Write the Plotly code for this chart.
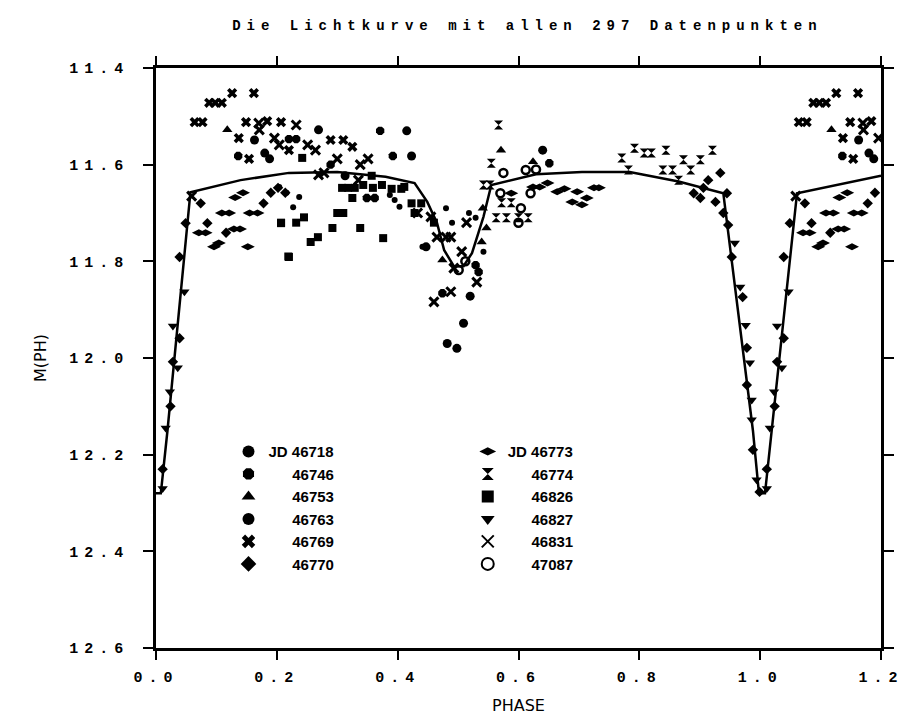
import plotly.graph_objects as go

# ---------------- data ----------------
title_text = "Die Lichtkurve mit allen 297 Datenpunkten"
x_ticks = [0.0, 0.2, 0.4, 0.6, 0.8, 1.0, 1.2]
x_ticklabels = ["0.0", "0.2", "0.4", "0.6", "0.8", "1.0", "1.2"]
y_ticks = [11.4, 11.6, 11.8, 12.0, 12.2, 12.4, 12.6]
y_ticklabels = ["11.4", "11.6", "11.8", "12.0", "12.2", "12.4", "12.6"]

# model light curve
model_phase = [0.0, 0.008, 0.019, 0.057, 0.14, 0.22, 0.30, 0.38, 0.428, 0.449, 0.465, 0.477,
               0.493, 0.509, 0.523, 0.542, 0.555, 0.575, 0.629, 0.705, 0.784, 0.865, 0.939,
               0.988, 0.998, 1.008, 1.019, 1.061, 1.2]
model_mag = [12.28, 12.28, 12.15, 11.657, 11.632, 11.617, 11.615, 11.625, 11.638, 11.677, 11.72,
             11.777, 11.81, 11.81, 11.783, 11.708, 11.642, 11.636, 11.62, 11.615, 11.615, 11.635,
             11.659, 12.15, 12.28, 12.28, 12.15, 11.659, 11.623]

# observations, one pair of lists per night (phase, magnitude)
p46718 = [0.163, 0.180, 0.188, 0.269, 0.313, 0.415, 0.423, 0.640, 0.447, 0.520, 0.509, 0.482, 0.498]
m46718 = [11.549, 11.576, 11.588, 11.528, 11.623, 11.53, 11.582, 11.57, 11.77, 11.872, 11.928, 11.97, 11.98]

p46746 = [0.136, 0.220, 0.232, 0.371, 0.392, 0.289, 0.349, 0.362, 0.651, 0.474, 0.529, 0.534]
m46746 = [11.582, 11.547, 11.547, 11.53, 11.582, 11.60, 11.669, 11.669, 11.597, 11.866, 11.808, 11.822]

p46753 = [0.118, 0.571, 0.624, 0.547, 0.539, 0.474, 0.541]
m46753 = [11.528, 11.57, 11.594, 11.731, 11.76, 11.797, 11.69]

p46763 = [0.204, 0.216, 0.237, 0.227, 0.387, 0.395, 0.403, 0.441, 0.490, 0.542, 0.529, 0.518, 0.480]
m46763 = [11.646, 11.658, 11.667, 11.688, 11.663, 11.673, 11.687, 11.77, 11.72, 11.78, 11.71, 11.70, 11.69]

p46769 = [0.064, 0.077, 0.088, 0.098, 0.109, 0.126, 0.162, 0.149, 0.184, 0.207, 0.137, 0.154,
          0.220, 0.289, 0.310, 0.325]
m46769 = [11.512, 11.512, 11.472, 11.472, 11.472, 11.452, 11.452, 11.512, 11.51, 11.512, 11.545,
          11.588, 11.57, 11.549, 11.549, 11.563]

p46770 = [0.039, 0.039, 0.028, 0.024, 0.011, 0.945, 0.939, 0.947, 0.953, 0.971, 0.978, 0.978,
          0.988, 0.999, 0.074, 0.085, 0.116, 0.178, 0.190, 0.202, 0.214, 0.049, 0.890, 0.901,
          0.906, 0.914, 0.926, 0.934]
m46770 = [11.791, 11.959, 12.008, 12.10, 12.23, 11.659, 11.70, 11.725, 11.791, 11.874, 11.979,
          12.056, 12.19, 12.277, 11.68, 11.721, 11.741, 11.68, 11.658, 11.648, 11.658, 11.721,
          11.659, 11.669, 11.648, 11.632, 11.677, 11.617]

p46773 = [0.109, 0.121, 0.155, 0.168, 0.071, 0.082, 0.129, 0.139, 0.096, 0.104, 0.152, 0.131,
          0.144, 0.624, 0.635, 0.648, 0.664, 0.676, 0.697, 0.725, 0.733, 0.689, 0.705, 0.713, 0.588]
m46773 = [11.70, 11.70, 11.70, 11.70, 11.741, 11.741, 11.733, 11.733, 11.77, 11.762, 11.77, 11.668,
          11.658, 11.646, 11.646, 11.638, 11.656, 11.65, 11.656, 11.648, 11.648, 11.677, 11.683,
          11.669, 11.659]

p46774 = [0.771, 0.792, 0.808, 0.820, 0.844, 0.921, 0.873, 0.901, 0.839, 0.855, 0.885, 0.782,
          0.865, 0.555, 0.542, 0.553, 0.572, 0.588, 0.563, 0.580, 0.600, 0.616, 0.567]
m46774 = [11.586, 11.566, 11.576, 11.576, 11.57, 11.57, 11.59, 11.59, 11.611, 11.611, 11.611,
          11.611, 11.632, 11.597, 11.642, 11.642, 11.679, 11.679, 11.71, 11.71, 11.71, 11.71, 11.518]

p46826 = [0.207, 0.207, 0.232, 0.245, 0.292, 0.338, 0.256, 0.268, 0.376, 0.220, 0.300, 0.310,
          0.325, 0.308, 0.318, 0.329, 0.343, 0.359, 0.374, 0.390, 0.406, 0.357, 0.423, 0.439,
          0.428, 0.242, 0.219, 0.411, 0.460]
m46826 = [11.721, 11.72, 11.72, 11.709, 11.731, 11.731, 11.76, 11.75, 11.752, 11.791, 11.70, 11.70,
          11.669, 11.648, 11.648, 11.648, 11.642, 11.648, 11.642, 11.65, 11.65, 11.623, 11.68, 11.68,
          11.70, 11.586, 11.79, 11.646, 11.72]

p46827 = [0.047, 0.028, 0.036, 0.023, 0.016, 0.011, 0.958, 0.967, 0.976, 0.983, 0.986, 0.986, 0.994]
m46827 = [11.863, 11.934, 12.02, 12.07, 12.145, 12.27, 11.762, 11.853, 11.932, 12.01, 12.087,
          12.128, 12.252]

p46831 = [0.170, 0.171, 0.196, 0.204, 0.232, 0.251, 0.264, 0.300, 0.338, 0.351, 0.269, 0.278,
          0.335, 0.433, 0.465, 0.480, 0.488, 0.506, 0.514, 0.531, 0.460, 0.488, 0.059, 0.455, 0.493]
m46831 = [11.514, 11.528, 11.545, 11.559, 11.518, 11.559, 11.57, 11.588, 11.60, 11.588, 11.621,
          11.617, 11.632, 11.70, 11.75, 11.75, 11.75, 11.78, 11.72, 11.843, 11.884, 11.863, 11.665,
          11.708, 11.814]

p47087 = [0.575, 0.612, 0.629, 0.570, 0.620, 0.604, 0.600, 0.501, 0.512]
m47087 = [11.617, 11.611, 11.61, 11.659, 11.659, 11.69, 11.72, 11.818, 11.80]

jd_left = ["46718", "46746", "46753", "46763", "46769", "46770"]
jd_right = ["46773", "46774", "46826", "46827", "46831", "47087"]

# ---------------- figure ----------------
data_by_jd = {
    "46718": (p46718, m46718), "46746": (p46746, m46746), "46753": (p46753, m46753),
    "46763": (p46763, m46763), "46769": (p46769, m46769), "46770": (p46770, m46770),
    "46773": (p46773, m46773), "46774": (p46774, m46774), "46826": (p46826, m46826),
    "46827": (p46827, m46827), "46831": (p46831, m46831), "47087": (p47087, m47087),
}
style = {
    "46718": dict(symbol="circle", size=9),
    "46746": dict(symbol="octagon", size=9),
    "46753": dict(symbol="triangle-up", size=9),
    "46763": dict(symbol="circle", size=6),
    "46769": dict(symbol="x", size=9),
    "46770": dict(symbol="diamond", size=8),
    "46773": dict(symbol="diamond-wide", size=10),
    "46774": dict(symbol="hourglass", size=9),
    "46826": dict(symbol="square", size=8),
    "46827": dict(symbol="triangle-down", size=9),
    "46831": dict(symbol="x-thin-open", size=9, line=dict(width=3, color="black")),
    "47087": dict(symbol="circle-open", size=8, line=dict(width=2.5, color="black")),
}

fig = go.Figure()
fig.add_trace(go.Scatter(x=model_phase, y=model_mag, mode="lines",
                         line=dict(color="black", width=2.5), showlegend=False,
                         hoverinfo="skip"))

pad = "\u2002\u2002\u2002\u200a"
for col, jds, leg in ((0, jd_left, "legend"), (1, jd_right, "legend2")):
    for i, jd in enumerate(jds):
        ph, mg = data_by_jd[jd]
        # phases 0..0.2 are repeated at 1..1.2, as in the original plot
        xs = list(ph) + [p + 1 for p in ph if p <= 0.2]
        ys = list(mg) + [m for p, m in zip(ph, mg) if p <= 0.2]
        st = dict(style[jd])
        st.setdefault("line", dict(width=0))
        name = ("JD " + jd) if i == 0 else (pad + jd)
        fig.add_trace(go.Scatter(x=xs, y=ys, mode="markers", name=name, legend=leg,
                                 marker=dict(color="black", **st)))

tick_font = dict(family="Liberation Mono, DejaVu Sans Mono, monospace", size=15,
                 color="black", weight="bold")


def spaced(s):
    return "<span style='letter-spacing:6px'>" + s + "</span>"


leg_font = dict(family="Liberation Sans Narrow, Liberation Sans, Arial, sans-serif",
                size=15, color="black", weight="bold")

fig.update_layout(
    width=908, height=725,
    margin=dict(l=148, r=25, t=60, b=85),
    paper_bgcolor="white", plot_bgcolor="white",
    title=dict(text="<span style='letter-spacing:6px'>" + title_text + "</span>",
               x=0.572, xanchor="center", y=1 - 17 / 725, yanchor="middle", yref="container",
               font=dict(family="Liberation Mono, DejaVu Sans Mono, monospace", size=14,
                         color="black", weight="bold")),
    xaxis=dict(range=[0, 1.2], tickvals=x_ticks, ticktext=[spaced(t) for t in x_ticklabels],
               showgrid=False, zeroline=False, showline=True, linecolor="black", linewidth=2.5,
               mirror="ticks", ticks="outside", ticklen=9, tickwidth=2, tickcolor="black",
               tickfont=tick_font, ticklabelstandoff=4,
               title=dict(text="PHASE", standoff=15,
                          font=dict(family="DejaVu Sans, sans-serif", size=16, color="black"))),
    yaxis=dict(range=[12.6, 11.4], tickvals=y_ticks, ticktext=[spaced(t) for t in y_ticklabels],
               showgrid=False, zeroline=False, showline=True, linecolor="black", linewidth=2.5,
               mirror="ticks", ticks="outside", ticklen=10, tickwidth=2, tickcolor="black",
               tickfont=tick_font, ticklabelstandoff=11,
               title=dict(text="M(PH)", standoff=19,
                          font=dict(family="DejaVu Sans, sans-serif", size=16, color="black"))),
    legend=dict(x=0.10, y=0.367, xanchor="left", yanchor="top", bgcolor="rgba(0,0,0,0)",
                font=leg_font, itemsizing="constant", tracegroupgap=0),
    legend2=dict(x=0.43, y=0.367, xanchor="left", yanchor="top", bgcolor="rgba(0,0,0,0)",
                 font=leg_font, itemsizing="constant", tracegroupgap=0),
)

fig.write_html("out.html")
